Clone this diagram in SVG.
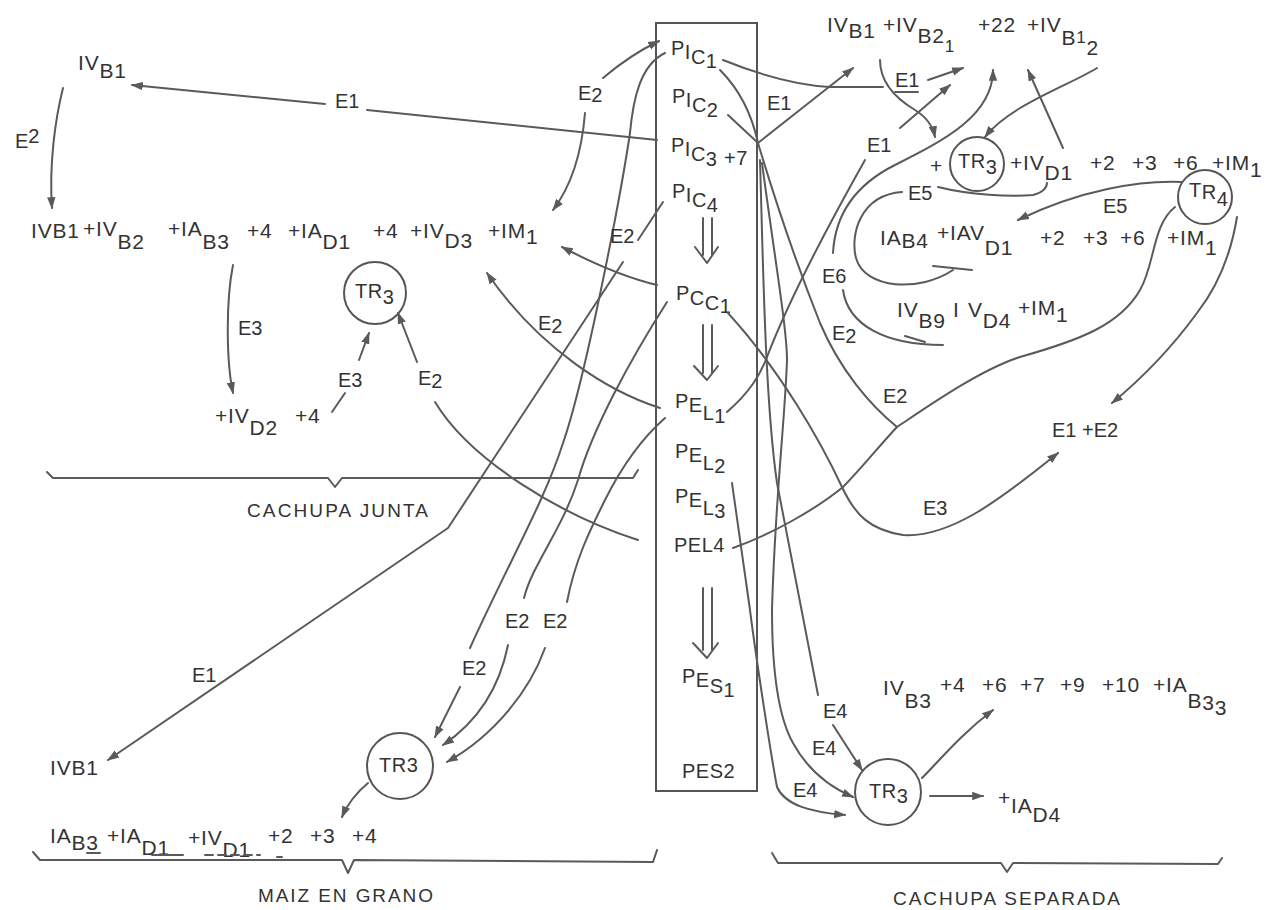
<svg xmlns="http://www.w3.org/2000/svg" width="1270" height="910" viewBox="0 0 1270 910">
<defs>
<style>
.t{font-family:"Liberation Sans",Arial,sans-serif;font-size:21px;letter-spacing:0.8px;fill:#333333}
.e{font-family:"Liberation Sans",Arial,sans-serif;font-size:20px;fill:#333333}
.b{font-family:"Liberation Sans",Arial,sans-serif;font-size:20px;letter-spacing:0.5px;fill:#333333}
.cap{font-family:"Liberation Sans",Arial,sans-serif;font-size:19px;fill:#333333}
.l{fill:none;stroke:#5a5a5a;stroke-width:2;stroke-linecap:round;stroke-linejoin:round}
.a{marker-end:url(#ah)}
.c{fill:none;stroke:#555555;stroke-width:2}
</style>
<marker id="ah" viewBox="0 0 10 10" refX="9" refY="5" markerWidth="6" markerHeight="6" orient="auto" markerUnits="strokeWidth">
<path d="M0,1.5 L10,5 L0,8.5 z" fill="#5a5a5a"/>
</marker>
</defs>
<rect width="1270" height="910" fill="#ffffff"/>

<g id="box_pes">
<rect x="656" y="23" width="101" height="768" class="c"/>
<text class="b" x="671" y="55">P<tspan dy="4">I</tspan><tspan dy="5">C</tspan><tspan dy="4">1</tspan></text>
<text class="b" x="672" y="103">P<tspan dy="4">I</tspan><tspan dy="5">C</tspan><tspan dy="5">2</tspan></text>
<text class="b" x="671" y="152">P<tspan dy="4">I</tspan><tspan dy="5">C</tspan><tspan dy="5">3</tspan></text>
<text class="b" x="724" y="165">+7</text>
<text class="b" x="672" y="198">P<tspan dy="4">I</tspan><tspan dy="5">C</tspan><tspan dy="5">4</tspan></text>
<text class="b" x="676" y="300">P<tspan dy="5">C</tspan><tspan dy="5">C</tspan><tspan dy="3">1</tspan></text>
<text class="b" x="675" y="408">P<tspan dy="4">E</tspan><tspan dy="8">L</tspan><tspan dy="3">1</tspan></text>
<text class="b" x="675" y="458">P<tspan dy="4">E</tspan><tspan dy="8">L</tspan><tspan dy="3">2</tspan></text>
<text class="b" x="675" y="503">P<tspan dy="4">E</tspan><tspan dy="8">L</tspan><tspan dy="3">3</tspan></text>
<text class="b" x="674" y="552">PEL4</text>
<text class="b" x="682" y="683">P<tspan dy="4">E</tspan><tspan dy="6">S</tspan><tspan dy="4">1</tspan></text>
<text class="b" x="682" y="778">PES2</text>
<path class="l" d="M703,218 L703,255 M712,218 L712,255 M695,247 L707,263 L718,247"/>
<path class="l" d="M703,325 L703,373 M712,325 L712,373 M694,366 L707,380 L718,366"/>
<path class="l" d="M703,588 L703,650 M712,588 L712,650 M693,643 L707,658 L718,643"/>
</g>

<g id="n_ivb1_top"><text class="t" x="78" y="70">IV<tspan dy="8">B1</tspan></text></g>

<g id="n_row_junta">
<text class="t" x="31" y="238">IVB1</text>
<text class="t" x="83" y="236">+IV<tspan dy="13">B2</tspan></text>
<text class="t" x="168" y="236">+IA<tspan dy="13">B3</tspan></text>
<text class="t" x="247" y="238">+4</text>
<text class="t" x="288" y="238">+IA<tspan dy="11">D1</tspan></text>
<text class="t" x="373" y="238">+4</text>
<text class="t" x="410" y="238">+IV<tspan dy="10">D3</tspan></text>
<text class="t" x="488" y="238">+IM<tspan dy="6">1</tspan></text>
</g>

<g id="n_tr3_left">
<circle cx="375" cy="293" r="31" class="c"/>
<text class="b" x="355" y="298">TR<tspan dy="6">3</tspan></text>
</g>

<g id="n_ivd2"><text class="t" x="215" y="423">+IV<tspan dy="12">D2</tspan></text><text class="t" x="295" y="423">+4</text></g>

<g id="n_ivb1_bottom"><text class="t" x="50" y="775">IVB1</text></g>

<g id="n_tr3_bottomleft">
<circle cx="400" cy="766" r="33" class="c"/>
<text class="b" x="379" y="772">TR3</text>
</g>

<g id="n_row_maiz">
<text class="t" x="50" y="843">IA<tspan dy="7">B3</tspan></text>
<text class="t" x="107" y="843">+IA<tspan dy="12">D1</tspan></text>
<text class="t" x="188" y="845">+IV<tspan dy="12">D1</tspan></text>
<text class="t" x="268" y="843">+2</text>
<text class="t" x="310" y="843">+3</text>
<text class="t" x="352" y="843">+4</text>
<path class="l" d="M87,853 L100,853 M152,855 L183,855 M277,857 L282,857" stroke-width="1.5"/>
<path class="l" d="M205,855 L260,855" stroke-dasharray="8,5" stroke-width="1.5"/>
</g>

<g id="n_row_top_right">
<text class="t" x="827" y="32">IV<tspan dy="6">B1</tspan></text>
<text class="t" x="883" y="32">+IV<tspan dy="11">B2</tspan><tspan dy="9" font-size="17">1</tspan></text>
<text class="t" x="978" y="32">+22</text>
<text class="t" x="1027" y="32">+IV<tspan dy="13">B</tspan><tspan dy="-2" font-size="17">1</tspan><tspan dy="12">2</tspan></text>
</g>

<g id="n_row_tr3_right">
<text class="t" x="930" y="173">+</text>
<circle cx="977" cy="164" r="27" class="c"/>
<text class="b" x="958" y="168">TR<tspan dy="6">3</tspan></text>
<text class="t" x="1010" y="170">+IV<tspan dy="10">D1</tspan></text>
<text class="t" x="1090" y="170">+2</text>
<text class="t" x="1132" y="170">+3</text>
<text class="t" x="1173" y="170">+6</text>
<text class="t" x="1212" y="170">+IM<tspan dy="7">1</tspan></text>
</g>

<g id="n_tr4">
<circle cx="1205" cy="197" r="27" class="c"/>
<text class="b" x="1189" y="197">T<tspan dy="2">R</tspan><tspan dy="7">4</tspan></text>
</g>

<g id="n_row_iab4">
<text class="t" x="880" y="245">IA<tspan dy="3">B4</tspan></text>
<text class="t" x="937" y="240">+IAV<tspan dy="15">D1</tspan></text>
<text class="t" x="1040" y="245">+2</text>
<text class="t" x="1083" y="245">+3</text>
<text class="t" x="1120" y="245">+6</text>
<text class="t" x="1167" y="245">+IM<tspan dy="10">1</tspan></text>
</g>

<g id="n_row_ivb9">
<text class="t" x="897" y="317">IV<tspan dy="11">B9</tspan></text>
<text class="t" x="953" y="317">I</text>
<text class="t" x="968" y="317">V<tspan dy="11">D4</tspan></text>
<text class="t" x="1018" y="315">+IM<tspan dy="7">1</tspan></text>
</g>

<g id="n_e1e2"><text class="e" x="1052" y="437">E1 +E2</text></g>

<g id="n_row_ivb3">
<text class="t" x="883" y="695">IV<tspan dy="13">B3</tspan></text>
<text class="t" x="940" y="692">+4</text>
<text class="t" x="982" y="692">+6</text>
<text class="t" x="1020" y="692">+7</text>
<text class="t" x="1060" y="692">+9</text>
<text class="t" x="1102" y="692">+10</text>
<text class="t" x="1153" y="692">+IA<tspan dy="16">B</tspan><tspan dy="2">3</tspan><tspan dy="5">3</tspan></text>
</g>

<g id="n_tr3_bottomright">
<circle cx="888" cy="792" r="33" class="c"/>
<text class="b" x="869" y="798">TR<tspan dy="5">3</tspan></text>
</g>

<g id="n_iad4"><text class="t" x="998" y="805">+<tspan dy="8">IA</tspan><tspan dy="9">D4</tspan></text></g>

<g id="braces">
<path class="l" d="M47,472 L53,478 L328,478 L335,487 L342,478 L633,478 L638,470"/>
<path class="l" d="M33,852 L40,860 L342,860 L348,873 L354,860 L653,862 L657,850"/>
<path class="l" d="M772,853 L778,863 L1001,863 L1007,872 L1013,863 L1218,864 L1222,858"/>
<text class="cap" x="247" y="517" textLength="181">CACHUPA JUNTA</text>
<text class="cap" x="258" y="902" textLength="175">MAIZ EN GRANO</text>
<text class="cap" x="893" y="905" textLength="227">CACHUPA SEPARADA</text>
</g>

<g id="connectors">
<path class="l" d="M657,140 L367,110"/>
<path class="l a" d="M325,104 L132,85"/>
<path class="l a" d="M63,88 C55,120 49,165 52,208"/>
<path class="l a" d="M233,265 C226,300 226,360 233,393"/>
<path class="l" d="M332,412 L345,393"/>
<path class="l a" d="M359,360 L369,333"/>
<path class="l a" d="M417,362 L398,313"/>
<path class="l" d="M638,540 C560,515 470,460 435,402"/>
<path class="l a" d="M660,408 C610,392 540,350 487,273"/>
<path class="l a" d="M657,285 Q615,275 562,247"/>
<path class="l a" d="M603,78 Q630,55 659,41"/>
<path class="l a" d="M585,113 C582,150 572,185 553,210"/>
<path class="l" d="M665,53 C640,65 633,100 630,133 C620,200 585,380 563,443 C545,500 510,560 470,648"/>
<path class="l a" d="M460,687 L435,737"/>
<path class="l" d="M663,202 L638,240"/>
<path class="l a" d="M623,262 L448,528 L108,760"/>
<path class="l" d="M667,302 C630,360 592,430 578,480 C562,530 532,565 524,598"/>
<path class="l a" d="M508,645 C500,685 480,720 443,745"/>
<path class="l" d="M665,418 C640,440 620,470 605,500 C590,530 575,560 567,602"/>
<path class="l a" d="M545,648 C530,690 495,735 447,762"/>
<path class="l a" d="M368,783 Q350,798 342,817"/>

<path class="l" d="M723,60 C760,75 795,85 830,87 L883,87"/>
<path class="l" d="M720,70 C740,90 752,115 758,143"/>
<path class="l" d="M728,115 L758,143"/>
<path class="l a" d="M758,143 L853,68"/>
<path class="l a" d="M880,60 C880,82 895,98 915,110 C928,118 933,127 935,137"/>
<path class="l a" d="M928,80 L963,68"/>
<path class="l" d="M895,92 L918,92" stroke-width="1.5"/>
<path class="l" d="M727,412 C750,392 760,375 767,357 C785,310 820,240 865,160"/>
<path class="l a" d="M900,128 L950,85"/>
<path class="l a" d="M833,253 C835,215 855,185 895,165 C945,140 993,115 993,70"/>
<path class="l a" d="M1097,68 C1070,85 1010,105 985,137"/>
<path class="l a" d="M1063,148 L1028,70"/>
<path class="l" d="M938,187 C970,195 1010,197 1033,195 C1042,193 1047,188 1047,183"/>
<path class="l a" d="M1182,182 C1140,180 1080,190 1018,220"/>
<path class="l" d="M902,192 C860,195 850,235 856,258 C865,290 920,292 953,270"/>
<path class="l" d="M933,266 L972,270"/>
<path class="l" d="M843,290 C848,325 885,345 943,345"/>
<path class="l" d="M905,336 L925,342"/>
<path class="l" d="M758,143 C775,200 795,260 820,323 C840,370 870,405 897,427"/>
<path class="l" d="M733,548 C770,535 815,510 843,487 C860,470 880,445 897,427 C930,405 980,370 1020,357 C1080,340 1120,325 1140,290 C1155,265 1152,225 1175,207"/>
<path class="l a" d="M728,313 C780,370 820,440 842,487 C855,515 870,530 903,535 C950,538 1000,500 1058,453"/>
<path class="l a" d="M1237,217 C1230,260 1215,290 1197,313 C1170,350 1140,380 1112,403"/>
<path class="l" d="M760,160 C763,260 765,400 777,483 L818,695"/>
<path class="l a" d="M833,725 L862,770"/>
<path class="l a" d="M762,163 C775,260 787,330 787,360 C785,420 775,500 772,610 C772,680 780,720 793,743 C805,765 825,785 853,797"/>
<path class="l a" d="M732,483 L750,610 C755,650 770,750 777,787 C785,805 810,812 845,815"/>
<path class="l a" d="M930,796 L983,796"/>
<path class="l a" d="M922,778 C940,760 960,735 993,710"/>
</g>

<g id="edge_labels">
<text class="e" x="335" y="108">E1</text>
<text class="e" x="15" y="148">E<tspan dy="-5">2</tspan></text>
<text class="e" x="238" y="335">E3</text>
<text class="e" x="338" y="387">E3</text>
<text class="e" x="418" y="385">E<tspan dy="3">2</tspan></text>
<text class="e" x="538" y="330">E<tspan dy="3">2</tspan></text>
<text class="e" x="610" y="243">E2</text>
<text class="e" x="578" y="100">E<tspan dy="2">2</tspan></text>
<text class="e" x="192" y="682">E1</text>
<text class="e" x="462" y="675">E2</text>
<text class="e" x="505" y="628">E2</text>
<text class="e" x="543" y="628">E2</text>
<text class="e" x="767" y="110">E1</text>
<text class="e" x="895" y="87">E1</text>
<text class="e" x="867" y="152">E1</text>
<text class="e" x="908" y="200">E5</text>
<text class="e" x="1103" y="213">E5</text>
<text class="e" x="822" y="283">E6</text>
<text class="e" x="832" y="340">E<tspan dy="3">2</tspan></text>
<text class="e" x="883" y="403">E2</text>
<text class="e" x="923" y="515">E3</text>
<text class="e" x="823" y="718">E4</text>
<text class="e" x="812" y="755">E4</text>
<text class="e" x="793" y="797">E4</text>
</g>
</svg>
